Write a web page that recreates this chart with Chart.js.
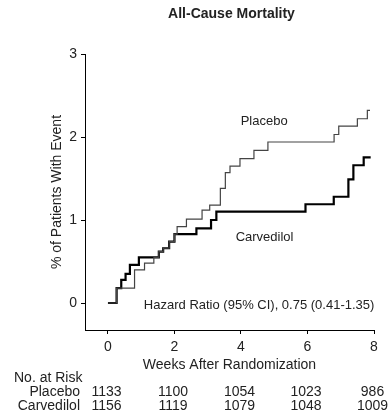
<!DOCTYPE html>
<html>
<head>
<meta charset="utf-8">
<script src="https://cdn.jsdelivr.net/npm/chart.js@4.4.1/dist/chart.umd.min.js"></script>
<style>
  html, body { margin: 0; padding: 0; background: #fff; }
</style>
</head>
<body>
<canvas id="km" width="390" height="414"></canvas>
<script>
// Kaplan-Meier style step data (week of event, cumulative %)
const placeboWeeks = [0, 0.26, 0.8, 1.1, 1.38, 1.53, 1.66, 1.84, 2.0, 2.08, 2.36, 2.83, 3.06, 3.38, 3.53, 3.67, 3.97, 4.39, 4.81, 6.8, 6.94, 7.5, 7.8, 7.88];
const placeboPct = [0, 0.18, 0.40, 0.48, 0.55, 0.62, 0.66, 0.74, 0.83, 0.92, 1.01, 1.12, 1.18, 1.38, 1.57, 1.65, 1.74, 1.84, 1.94, 2.03, 2.13, 2.22, 2.32, 2.32];
const carvWeeks = [0, 0.26, 0.4, 0.53, 0.66, 0.93, 1.53, 1.66, 1.84, 2.0, 2.66, 3.1, 3.26, 5.94, 6.79, 7.23, 7.38, 7.69, 7.9];
const carvPct = [0, 0.18, 0.28, 0.35, 0.46, 0.55, 0.62, 0.66, 0.74, 0.83, 0.90, 1.00, 1.10, 1.19, 1.28, 1.49, 1.66, 1.755, 1.755];

const xTicks = [0, 2, 4, 6, 8];
const yTicks = [0, 1, 2, 3];

const riskWeeks = [0, 2, 4, 6, 8];
const riskPlacebo = [1133, 1100, 1054, 1023, 986];
const riskCarvedilol = [1156, 1119, 1079, 1048, 1009];

const FONT = '"Liberation Sans", Arial, Helvetica, sans-serif';
Chart.defaults.font.family = FONT;
Chart.defaults.color = '#222';

let toPoints = (xs, ys) => xs.map((w, i) => ({ x: w, y: ys[i] }));

// title, curve labels and the numbers-at-risk table
let extras = {
  id: 'extras',
  afterDraw(chart) {
    let ctx = chart.ctx;
    let xs = chart.scales.x, ys = chart.scales.y, area = chart.chartArea;
    ctx.save();
    ctx.fillStyle = '#222';
    ctx.textBaseline = 'alphabetic';

    ctx.font = 'bold 14px ' + FONT;
    ctx.textAlign = 'center';
    ctx.fillText('All-Cause Mortality', (area.left + area.right) / 2 + 2, 18);

    ctx.font = '13px ' + FONT;
    ctx.textAlign = 'left';
    ctx.fillText('Placebo', xs.getPixelForValue(3.99), ys.getPixelForValue(2.145));
    ctx.fillText('Carvedilol', xs.getPixelForValue(3.84), ys.getPixelForValue(0.747));
    ctx.fillText('Hazard Ratio (95% CI), 0.75 (0.41-1.35)', xs.getPixelForValue(1.08), ys.getPixelForValue(-0.072));

    ctx.font = '14px ' + FONT;
    ctx.fillText('No. at Risk', 14, 382);
    ctx.textAlign = 'right';
    ctx.fillText('Placebo', 80, 396);
    ctx.fillText('Carvedilol', 80, 409.5);
    ctx.textAlign = 'center';
    riskWeeks.forEach((w, i) => {
      let px = xs.getPixelForValue(w) - 1.5;
      ctx.fillText(String(riskPlacebo[i]), px, 396);
      ctx.fillText(String(riskCarvedilol[i]), px, 409.5);
    });
    ctx.restore();
  }
};

let km = new Chart(document.getElementById('km').getContext('2d'), {
  type: 'line',
  data: {
    datasets: [{
      label: 'Placebo',
      data: toPoints(placeboWeeks, placeboPct),
      stepped: 'before',
      borderColor: '#444',
      borderWidth: 1.2,
      pointRadius: 0,
      fill: false
    }, {
      label: 'Carvedilol',
      data: toPoints(carvWeeks, carvPct),
      stepped: 'before',
      borderColor: '#000',
      borderWidth: 2.2,
      pointRadius: 0,
      fill: false
    }]
  },
  options: {
    responsive: false,
    animation: false,
    layout: { padding: { top: 54, right: 16, left: 0, bottom: 0 } },
    plugins: {
      legend: { display: false },
      title: { display: false },
      tooltip: { enabled: false }
    },
    scales: {
      x: {
        type: 'linear',
        min: -0.69,
        max: 8,
        afterBuildTicks: s => { s.ticks = xTicks.map(v => ({ value: v })); },
        afterFit: s => { s.height = 84; },
        border: { display: true, color: '#000', width: 1 },
        grid: { drawOnChartArea: false, drawTicks: true, tickLength: 4, color: '#000' },
        ticks: { font: { size: 14 }, color: '#222', padding: 5, maxRotation: 0 },
        title: {
          display: true,
          text: 'Weeks After Randomization',
          font: { size: 14 },
          color: '#222',
          padding: { top: 0, bottom: 40.6 }
        }
      },
      y: {
        type: 'linear',
        min: -0.325,
        max: 3,
        afterBuildTicks: s => { s.ticks = yTicks.map(v => ({ value: v })); },
        afterFit: s => { s.width = 85; },
        border: { display: true, color: '#000', width: 1 },
        grid: { drawOnChartArea: false, drawTicks: true, tickLength: 4, color: '#000' },
        ticks: { font: { size: 14 }, color: '#222', padding: 4 },
        title: {
          display: true,
          text: '% of Patients With Event',
          font: { size: 14 },
          color: '#222',
          padding: { top: 48.6, bottom: 0 }
        }
      }
    }
  },
  plugins: [extras]
});
</script>
</body>
</html>
